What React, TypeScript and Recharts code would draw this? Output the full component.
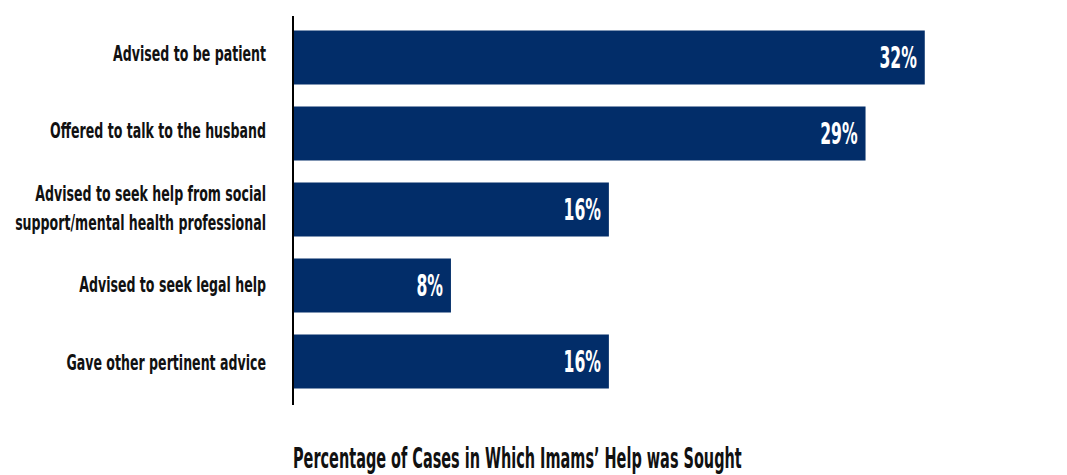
import React from 'react';
import { BarChart, Bar, XAxis, YAxis, LabelList } from 'recharts';

const categories = [
  'Advised to be patient',
  'Offered to talk to the husband',
  'Advised to seek help from social\nsupport/mental health professional',
  'Advised to seek legal help',
  'Gave other pertinent advice',
];
const values = [32, 29, 16, 8, 16];
const valueLabels = ['32%', '29%', '16%', '8%', '16%'];
const xDomain: [number, number] = [0, 35];
const title = "Percentage of Cases in Which Imams\u2019 Help was Sought";

const data = categories.map((c, i) => ({ name: c, value: values[i], label: valueLabels[i] }));

const FONT = '"DejaVu Sans Condensed", "Liberation Sans Narrow", sans-serif';
const BAR = '#022d69';

const LABEL_FS = 22;
const LABEL_SX = 0.636;

const CatTick = (props: any) => {
  const { y, payload } = props;
  const lines = String(payload.value).split('\n');
  const lh = 29;
  const cy = 362.5 + (y - 362) * 1.017;
  const startY = cy - ((lines.length - 1) * lh) / 2;
  return (
    <g transform={`translate(266,${startY}) scale(${LABEL_SX},1)`}>
      {lines.map((ln, i) => (
        <text key={i} x={0} y={i * lh} textAnchor="end" dominantBaseline="central"
          fontFamily={FONT} fontWeight={700} fontSize={LABEL_FS} fill="#111">
          {ln}
        </text>
      ))}
    </g>
  );
};

const ValueLabel = (props: any) => {
  const { x, y, width, height, index } = props;
  const tx = x + width - 8;
  const ty = y + height / 2;
  return (
    <g transform={`translate(${tx},${ty}) scale(0.56,1)`}>
      <text x={0} y={0} textAnchor="end" dominantBaseline="central"
        fontFamily={FONT} fontWeight={700} fontSize={31} fill="#fff">
        {valueLabels[index]}
      </text>
    </g>
  );
};

export default function App() {
  return (
    <div style={{ position: 'absolute', left: 0, top: 0, width: 1067, height: 475, background: '#fff', overflow: 'hidden' }}>
      <BarChart
        width={1067}
        height={475}
        data={data}
        layout="vertical"
        margin={{ top: 16, right: 83, bottom: 70, left: 0 }}
        barSize={54}
      >
        <XAxis type="number" domain={xDomain} hide />
        <YAxis
          type="category"
          dataKey="name"
          width={293}
          tickLine={false}
          axisLine={{ stroke: '#000', strokeWidth: 2 }}
          tick={<CatTick />}
          interval={0}
          padding={{ top: 3.5, bottom: 5.5 }}
        />
        <Bar dataKey="value" fill={BAR} isAnimationActive={false}>
          <LabelList dataKey="label" content={<ValueLabel />} />
        </Bar>
      </BarChart>
      <div style={{
        position: 'absolute', left: 293, top: 443, fontFamily: FONT, fontWeight: 700,
        fontSize: 28, lineHeight: '32px', color: '#111', whiteSpace: 'nowrap',
        transform: 'scaleX(0.574)', transformOrigin: 'left top',
      }}>
        {title}
      </div>
    </div>
  );
}
